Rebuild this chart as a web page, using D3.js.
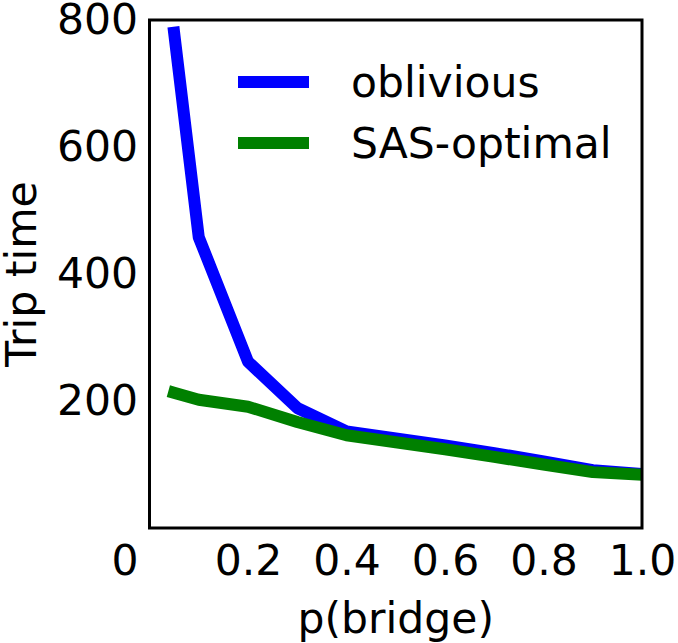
<!DOCTYPE html>
<html>
<head>
<meta charset="utf-8">
<script src="https://cdn.jsdelivr.net/npm/d3@7.9.0/dist/d3.min.js"></script>
<style>
  body { margin: 0; background: #fff; }
  svg { display: block; font-family: "DejaVu Sans", sans-serif; }
</style>
</head>
<body>
<svg id="chart" width="678" height="643"></svg>
<script>
// p(bridge) values
const pBridge = [0.05, 0.1, 0.2, 0.3, 0.4, 0.5, 0.6, 0.7, 0.8, 0.9, 1.0];
// Trip time, oblivious strategy
const oblivious = [780, 458, 262, 189, 152, 141, 130, 118, 105, 91, 85];
// Trip time, SAS-optimal strategy
const sasOptimal = [213, 202, 191, 167, 146, 135, 124, 112, 100, 88, 84];

const seriesNames = ['oblivious', 'SAS-optimal'];
const seriesColors = ['#0000ff', '#008000'];
const xTicks = [0, 0.2, 0.4, 0.6, 0.8, 1.0];
const yTicks = [200, 400, 600, 800];

const fontSize = 42.5;
const margin = { top: 20, left: 149.5, right: 36, bottom: 115 };
const svg = d3.select('#chart');
const width = +svg.attr('width') - margin.left - margin.right;
const height = +svg.attr('height') - margin.top - margin.bottom;

const x = d3.scaleLinear().domain([0, 1]).range([0, width]);
const y = d3.scaleLinear().domain([0, 800]).range([height, 0]);

const g = svg.append('g').attr('transform', `translate(${margin.left},${margin.top})`);

// clip the data lines to the axes box
svg.append('defs').append('clipPath').attr('id', 'plot-clip')
  .append('rect').attr('width', width).attr('height', height);

const line = d3.line()
  .x((d) => x(d[0]))
  .y((d) => y(d[1]));

const series = [oblivious, sasOptimal].map((vals) => pBridge.map((p, i) => [p, vals[i]]));

g.append('g').attr('clip-path', 'url(#plot-clip)')
  .selectAll('path')
  .data(series)
  .join('path')
  .attr('d', line)
  .attr('fill', 'none')
  .attr('stroke', (d, i) => seriesColors[i])
  .attr('stroke-width', 12)
  .attr('stroke-linecap', 'square')
  .attr('stroke-linejoin', 'round');

// axes, no tick marks
const xAxis = g.append('g')
  .attr('transform', `translate(0,${height})`)
  .call(d3.axisBottom(x).tickValues(xTicks).tickSize(0).tickPadding(17)
    .tickFormat((d) => (d === 0 ? '0' : d3.format('.1f')(d))));
xAxis.select('.domain').remove();
xAxis.selectAll('text')
  .attr('font-size', fontSize)
  .attr('font-family', 'DejaVu Sans')
  .attr('fill', '#000');
// the corner "0" sits right-aligned like the y labels
xAxis.selectAll('.tick').filter((d) => d === 0).select('text')
  .attr('text-anchor', 'end')
  .attr('x', -11.5);

const yAxis = g.append('g')
  .call(d3.axisLeft(y).tickValues(yTicks).tickSize(0).tickPadding(11.5));
yAxis.select('.domain').remove();
yAxis.selectAll('text')
  .attr('font-size', fontSize)
  .attr('font-family', 'DejaVu Sans')
  .attr('fill', '#000');

// frame
g.append('rect')
  .attr('width', width)
  .attr('height', height)
  .attr('fill', 'none')
  .attr('stroke', '#000')
  .attr('stroke-width', 3);

// axis titles
svg.append('text')
  .attr('x', margin.left + width / 2)
  .attr('y', 633)
  .attr('text-anchor', 'middle')
  .attr('font-size', fontSize)
  .text('p(bridge)');

svg.append('text')
  .attr('transform', `translate(36,${margin.top + height / 2}) rotate(-90)`)
  .attr('text-anchor', 'middle')
  .attr('font-size', fontSize)
  .text('Trip time');

// legend
const legend = g.append('g').attr('transform', 'translate(88.5,62)');
const items = legend.selectAll('g')
  .data(seriesNames)
  .join('g')
  .attr('transform', (d, i) => `translate(0,${i * 61})`);
items.append('line')
  .attr('x1', 0).attr('x2', 71)
  .attr('stroke', (d, i) => seriesColors[i])
  .attr('stroke-width', 12);
items.append('text')
  .attr('x', 113)
  .attr('y', 15)
  .attr('font-size', fontSize)
  .text((d) => d);
</script>
</body>
</html>
